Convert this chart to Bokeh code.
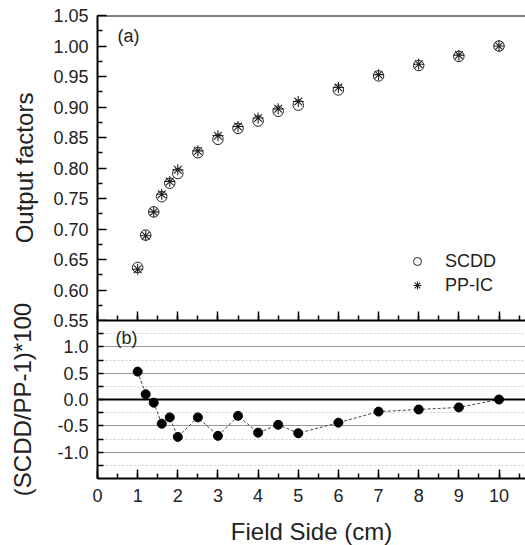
from bokeh.plotting import figure
from bokeh.layouts import column
from bokeh.models import (LinearAxis, SingleIntervalTicker, FixedTicker, PrintfTickFormatter,
                          Span, Label, Legend, LegendItem, ColumnDataSource, Grid, Range1d)
from bokeh.embed import file_html
from bokeh.resources import INLINE

# ---- data ----
field_side = [1, 1.2, 1.4, 1.6, 1.8, 2, 2.5, 3, 3.5, 4, 4.5, 5, 6, 7, 8, 9, 10]
scdd = [0.637, 0.690, 0.728, 0.753, 0.775, 0.791, 0.825, 0.847, 0.865, 0.877,
        0.893, 0.903, 0.928, 0.951, 0.968, 0.983, 1.000]
ppic = [0.634, 0.689, 0.728, 0.757, 0.778, 0.797, 0.828, 0.853, 0.868, 0.882,
        0.897, 0.909, 0.932, 0.953, 0.970, 0.985, 1.000]
diff = [0.53, 0.10, -0.06, -0.46, -0.34, -0.71, -0.34, -0.69, -0.31, -0.63,
        -0.48, -0.64, -0.44, -0.23, -0.19, -0.15, 0.0]

top_ticks = [0.55, 0.60, 0.65, 0.70, 0.75, 0.80, 0.85, 0.90, 0.95, 1.00, 1.05]
top_minor = [0.575, 0.625, 0.675, 0.725, 0.775, 0.825, 0.875, 0.925, 0.975, 1.025]
bot_ticks = [-1.0, -0.5, 0.0, 0.5, 1.0]
bot_minor = [-1.25, -0.75, -0.25, 0.25, 0.75, 1.25]

FONT = "Liberation Sans"
TXT = "#222222"
OVERLAP = 40
TOP_PAD = 12

def style_axis(ax, major_in=9, minor_in=5):
    ax.axis_line_width = 2
    ax.axis_line_color = "black"
    ax.major_tick_in = major_in
    ax.major_tick_out = 0
    ax.minor_tick_in = minor_in
    ax.minor_tick_out = 0
    ax.major_tick_line_width = 1.5
    ax.minor_tick_line_width = 1.5
    ax.major_label_text_font = FONT
    ax.major_label_text_font_size = "18px"
    ax.major_label_text_color = TXT
    ax.axis_label_text_font = FONT
    ax.axis_label_text_font_size = "24px"
    ax.axis_label_text_font_style = "normal"
    ax.axis_label_text_color = TXT

# ---- top panel ----
top = figure(frame_width=428, frame_height=305, x_range=Range1d(0, 10.66),
             y_range=Range1d(0.55, 1.05), x_axis_type=None, y_axis_type=None,
             output_backend="svg", toolbar_location=None,
             min_border_left=97, min_border_right=0, min_border_top=15,
             min_border_bottom=TOP_PAD, outline_line_color=None)

yax = LinearAxis(ticker=FixedTicker(ticks=top_ticks, minor_ticks=top_minor),
                 formatter=PrintfTickFormatter(format="%.2f"),
                 axis_label="Output factors")
style_axis(yax)
yax.major_label_standoff = 9
yax.axis_label_standoff = 12
top.add_layout(yax, "left")

top.add_layout(Span(location=1.05, dimension="width", line_color="black", line_width=2))

src = ColumnDataSource(dict(x=field_side, scdd=scdd, ppic=ppic, diff=diff))
r_c = top.scatter("x", "scdd", source=src, marker="circle", size=10.5,
                  fill_color=None, line_color="#222222", line_width=1)
r_s = top.scatter("x", "ppic", source=src, marker="asterisk", size=11,
                  line_color="#222222", line_width=1.1)

leg = Legend(items=[LegendItem(label="SCDD", renderers=[r_c]),
                    LegendItem(label="PP-IC", renderers=[r_s])],
             location=(310, 23), padding=0, margin=0, spacing=0,
             glyph_width=20, glyph_height=24, label_height=24, label_standoff=18,
             label_text_font=FONT, label_text_font_size="18px", label_text_color=TXT,
             border_line_alpha=0, background_fill_alpha=0)
top.add_layout(leg)

top.add_layout(Label(x=0.5, y=1.016, text="(a)", text_baseline="middle",
                     text_font=FONT, text_font_size="18px", text_color=TXT))

# ---- bottom panel (its canvas overlaps the lower edge of the top one) ----
bot = figure(frame_width=428, frame_height=158, x_range=top.x_range,
             y_range=Range1d(-1.5, 1.5), x_axis_type=None, y_axis_type=None,
             output_backend="svg", toolbar_location=None,
             min_border_left=97, min_border_right=0, min_border_top=OVERLAP,
             min_border_bottom=67, outline_line_color=None,
             border_fill_alpha=0, margin=(-(OVERLAP + TOP_PAD), 0, 0, 0))

bticker = FixedTicker(ticks=bot_ticks, minor_ticks=bot_minor)
yax_b = LinearAxis(ticker=bticker, formatter=PrintfTickFormatter(format="%.1f"),
                   axis_label="(SCDD/PP-1)*100")
style_axis(yax_b, major_in=6, minor_in=6)
yax_b.major_label_standoff = 9
yax_b.axis_label_standoff = 18
bot.add_layout(yax_b, "left")

xax_b = LinearAxis(ticker=SingleIntervalTicker(interval=1, num_minor_ticks=2),
                   axis_label="Field Side (cm)")
style_axis(xax_b)
xax_b.major_label_standoff = 10
xax_b.axis_label_standoff = 13
bot.add_layout(xax_b, "below")

# boundary between the panels: ticks point up into the top panel
xax_mid = LinearAxis(ticker=SingleIntervalTicker(interval=1, num_minor_ticks=2))
style_axis(xax_mid)
xax_mid.major_tick_in = 0
xax_mid.minor_tick_in = 0
xax_mid.major_tick_out = 9
xax_mid.minor_tick_out = 5
xax_mid.major_label_text_color = None
xax_mid.major_label_text_font_size = "1px"
xax_mid.major_label_standoff = 0
bot.add_layout(xax_mid, "above")

g = Grid(dimension=1, ticker=bticker, grid_line_color="#999999", grid_line_width=1,
         minor_grid_line_color="#cccccc", minor_grid_line_dash="2 2", minor_grid_line_width=1)
bot.add_layout(g)
bot.add_layout(Span(location=0, dimension="width", line_color="black", line_width=2))

bot.line("x", "diff", source=src, line_color="#444444", line_dash="3 2", line_width=1)
bot.scatter("x", "diff", source=src, marker="circle", size=9,
            fill_color="black", line_color="black")

bot.add_layout(Label(x=0.45, y=1.16, text="(b)", text_baseline="middle",
                     text_font=FONT, text_font_size="18px", text_color=TXT))

p = column(top, bot, spacing=0)
open("out.html", "w").write(file_html(p, INLINE))
